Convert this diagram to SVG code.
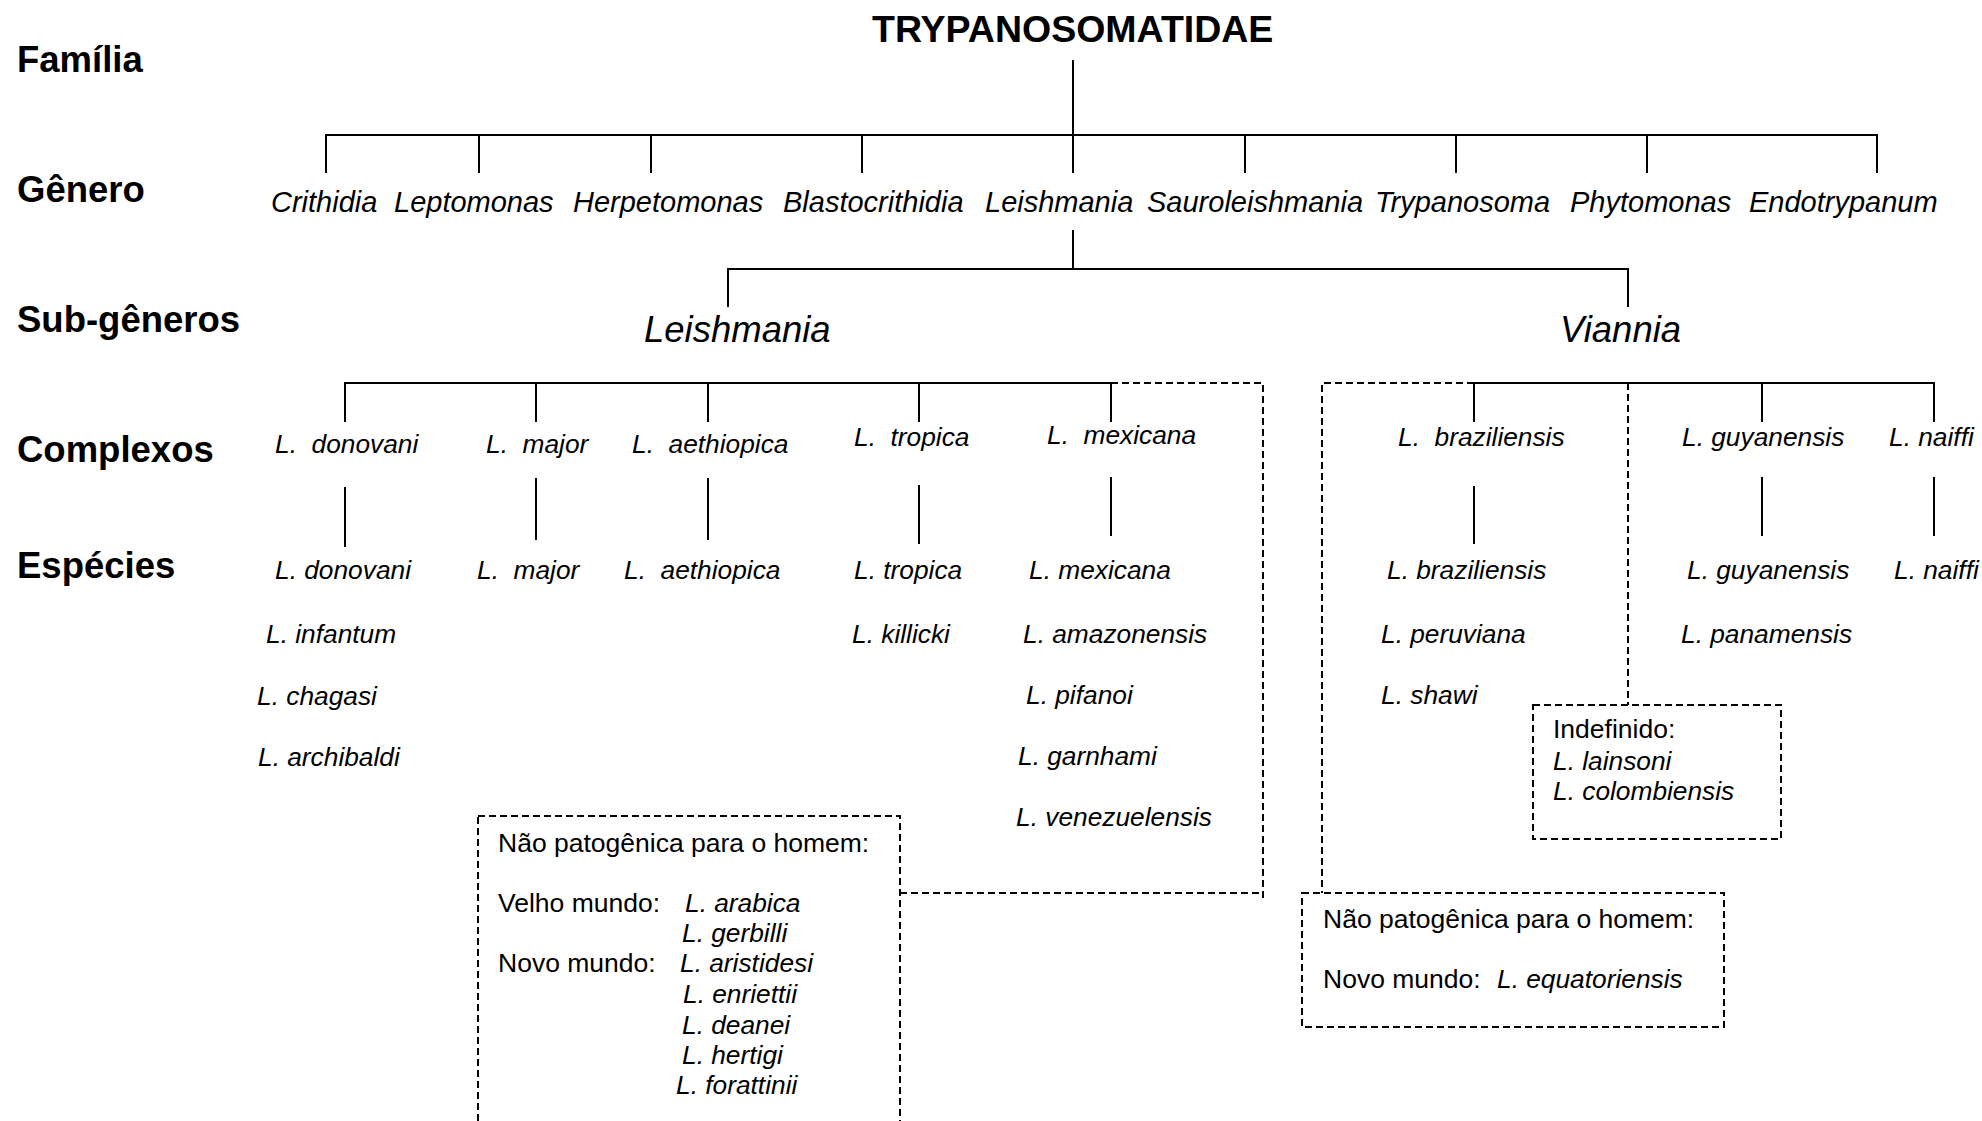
<svg xmlns="http://www.w3.org/2000/svg" width="1982" height="1121" viewBox="0 0 1982 1121">
<style>
text{font-family:"Liberation Sans",Arial,sans-serif;fill:#000}
.lvl{font-size:36.5px;font-weight:bold}
.top{font-size:37.5px;font-weight:bold}
.gen{font-size:29px;font-style:italic}
.sub{font-size:36.5px;font-style:italic}
.sp{font-size:26.3px;font-style:italic}
.box{font-size:26.5px}
.ln{stroke:#000;stroke-width:2;fill:none}
.ds{stroke:#000;stroke-width:2;fill:none;stroke-dasharray:7 4}
</style>
<rect width="1982" height="1121" fill="#fff"/>
<g id="levels">
<text class="lvl" x="17" y="72">Família</text>
<text class="lvl" x="17" y="202">Gênero</text>
<text class="lvl" x="17" y="332">Sub-gêneros</text>
<text class="lvl" x="17" y="462">Complexos</text>
<text class="lvl" x="17" y="578">Espécies</text>
</g>
<g id="family"><text class="top" x="872" y="42">TRYPANOSOMATIDAE</text></g>
<g id="genera">
<text class="gen" x="271" y="212">Crithidia</text>
<text class="gen" x="394" y="212">Leptomonas</text>
<text class="gen" x="573" y="212">Herpetomonas</text>
<text class="gen" x="783" y="212">Blastocrithidia</text>
<text class="gen" x="985" y="212">Leishmania</text>
<text class="gen" x="1147" y="212">Sauroleishmania</text>
<text class="gen" x="1375" y="212">Trypanosoma</text>
<text class="gen" x="1570" y="212">Phytomonas</text>
<text class="gen" x="1749" y="212">Endotrypanum</text>
</g>
<g id="subgenera">
<text class="sub" x="644" y="342">Leishmania</text>
<text class="sub" x="1560" y="342">Viannia</text>
</g>
<g id="complexes">
<text class="sp" x="275" y="453" xml:space="preserve">L.  donovani</text>
<text class="sp" x="486" y="453" xml:space="preserve">L.  major</text>
<text class="sp" x="632" y="453" xml:space="preserve">L.  aethiopica</text>
<text class="sp" x="854" y="446" xml:space="preserve">L.  tropica</text>
<text class="sp" x="1047" y="444" xml:space="preserve">L.  mexicana</text>
<text class="sp" x="1398" y="446" xml:space="preserve">L.  braziliensis</text>
<text class="sp" x="1682" y="446">L. guyanensis</text>
<text class="sp" x="1889" y="446">L. naiffi</text>
</g>
<g id="species">
<text class="sp" x="275" y="579">L. donovani</text>
<text class="sp" x="266" y="643">L. infantum</text>
<text class="sp" x="257" y="705">L. chagasi</text>
<text class="sp" x="258" y="766">L. archibaldi</text>
<text class="sp" x="477" y="579" xml:space="preserve">L.  major</text>
<text class="sp" x="624" y="579" xml:space="preserve">L.  aethiopica</text>
<text class="sp" x="854" y="579">L. tropica</text>
<text class="sp" x="852" y="643">L. killicki</text>
<text class="sp" x="1029" y="579">L. mexicana</text>
<text class="sp" x="1023" y="643">L. amazonensis</text>
<text class="sp" x="1026" y="704">L. pifanoi</text>
<text class="sp" x="1018" y="765">L. garnhami</text>
<text class="sp" x="1016" y="826">L. venezuelensis</text>
<text class="sp" x="1387" y="579">L. braziliensis</text>
<text class="sp" x="1381" y="643">L. peruviana</text>
<text class="sp" x="1381" y="704">L. shawi</text>
<text class="sp" x="1687" y="579">L. guyanensis</text>
<text class="sp" x="1681" y="643">L. panamensis</text>
<text class="sp" x="1894" y="579">L. naiffi</text>
</g>
<g id="box-nonpath-old">
<rect class="ds" x="478" y="816" width="422" height="330"/>
<text class="box" x="498" y="852">Não patogênica para o homem:</text>
<text class="box" x="498" y="912">Velho mundo:</text>
<text class="sp" x="685" y="912">L. arabica</text>
<text class="sp" x="682" y="942">L. gerbilli</text>
<text class="box" x="498" y="972">Novo mundo:</text>
<text class="sp" x="680" y="972">L. aristidesi</text>
<text class="sp" x="683" y="1003">L. enriettii</text>
<text class="sp" x="682" y="1034">L. deanei</text>
<text class="sp" x="682" y="1064">L. hertigi</text>
<text class="sp" x="676" y="1094">L. forattinii</text>
</g>
<g id="box-indefinido">
<rect class="ds" x="1533" y="705" width="248" height="134"/>
<text class="box" x="1553" y="738">Indefinido:</text>
<text class="sp" x="1553" y="770">L. lainsoni</text>
<text class="sp" x="1553" y="800">L. colombiensis</text>
</g>
<g id="box-nonpath-viannia">
<rect class="ds" x="1302" y="893" width="422" height="134"/>
<text class="box" x="1323" y="928">Não patogênica para o homem:</text>
<text class="box" x="1323" y="988">Novo mundo:</text>
<text class="sp" x="1497" y="988">L. equatoriensis</text>
</g>
<g id="connectors">
<path class="ln" d="M1073 60V135M326 173V135H1877V173M479 135V173M651 135V173M862 135V173M1073 135V173M1245 135V173M1456 135V173M1647 135V173"/>
<path class="ln" d="M1073 230V269M728 307V269H1628V307"/>
<path class="ln" d="M345 422V383H1111V422M536 383V422M708 383V422M919 383V422"/>
<path class="ds" d="M1111 383H1263V900M900 893H1263"/>
<path class="ln" d="M1474 422V383H1934V422M1762 383V422"/>
<path class="ds" d="M1474 383H1322V893M1628 383V705"/>
<path class="ln" d="M345 487V547M536 478V540M708 478V540M919 485V544M1111 477V536M1474 486V544M1762 477V536M1934 477V536"/>
</g>
</svg>
